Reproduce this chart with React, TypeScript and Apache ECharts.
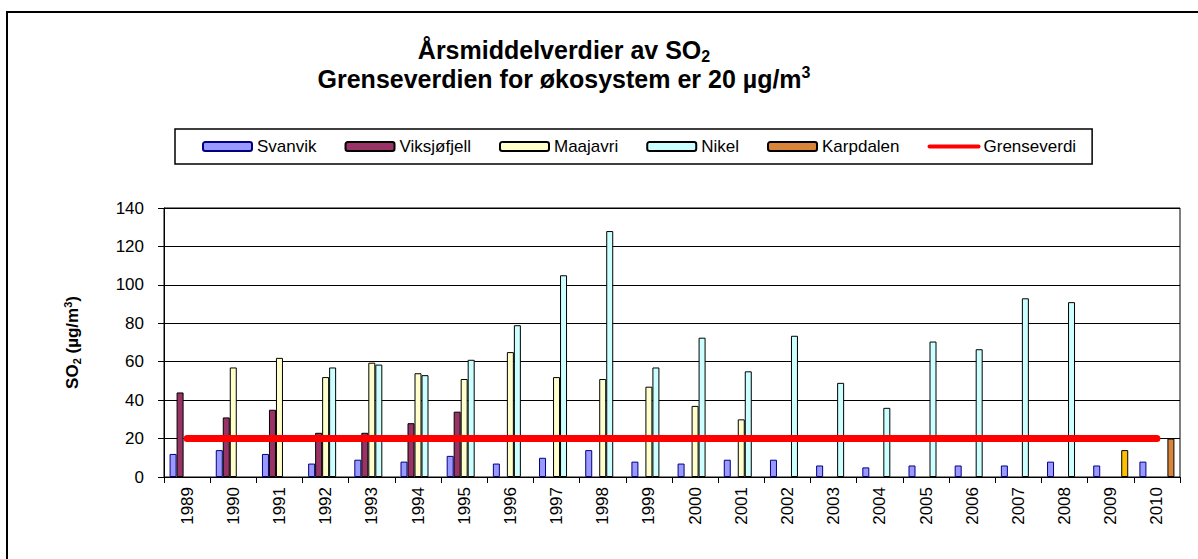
import React, { useEffect, useRef } from "react";
import * as echarts from "echarts";

const years = ["1989","1990","1991","1992","1993","1994","1995","1996","1997","1998","1999","2000","2001","2002","2003","2004","2005","2006","2007","2008","2009","2010"];
const svanvik = [12, 14, 12, 7, 9, 8, 11, 7, 10, 14, 8, 7, 9, 9, 6, 5, 6, 6, 6, 8, 6, 8];
const viksjofjell = [44, 31, 35, 23, 23, 28, 34, null, null, null, null, null, null, null, null, null, null, null, null, null, null, null];
const maajavri = [null, 57, 62, 52, 59.5, 54, 51, 65, 52, 51, 47, 37, 30, null, null, null, null, null, null, null, null, null];
const nikel = [null, null, null, 57, 58.5, 53, 61, 79, 105, 128, 57, 72.5, 55, 73.5, 49, 36, 70.5, 66.5, 93, 91, null, null];
const karpdalen = [null, null, null, null, null, null, null, null, null, null, null, null, null, null, null, null, null, null, null, null, 14, 20];
const grenseverdi = years.map(() => 20);
const yTicks = [0, 20, 40, 60, 80, 100, 120, 140];

const FONT = "'Liberation Sans', Arial, sans-serif";

export default function App() {
  const ref = useRef<HTMLDivElement>(null);
  useEffect(() => {
    if (!ref.current) return;
    const chart = echarts.init(ref.current, null, { renderer: "svg" });
    const barBase = (name: string, data: any[], color: string, border: string) => ({
      name,
      type: "bar",
      data,
      barWidth: 7,
      barGap: "0%",
      itemStyle: { color, borderColor: border, borderWidth: 1 },
    });
    const karpData = karpdalen.map((v, i) =>
      i === 20 && v != null ? { value: v, itemStyle: { color: "#FFC000" } } : v
    );
    chart.setOption({
      animation: false,
      backgroundColor: "#fff",
      textStyle: { fontFamily: FONT },
      title: {
        text: "{t|Årsmiddelverdier av SO}{sub|2}\n{t|Grenseverdien for økosystem er 20 µg/m}{sup|3}",
        left: 559,
        textAlign: "center",
        top: 30,
        textStyle: {
          rich: {
            t: { fontFamily: FONT, fontSize: 25, fontWeight: "bold", color: "#000", lineHeight: 29, verticalAlign: "middle" },
            sub: { fontFamily: FONT, fontSize: 16, fontWeight: "bold", color: "#000", lineHeight: 15, verticalAlign: "bottom" },
            sup: { fontFamily: FONT, fontSize: 16, fontWeight: "bold", color: "#000", lineHeight: 15, verticalAlign: "top" },
          },
        },
      },
      graphic: [
        {
          type: "rect",
          shape: { x: 7, y: 12, width: 1220, height: 600 },
          style: { fill: "none", stroke: "#000", lineWidth: 2 },
          silent: true,
        },
      ],
      legend: {
        left: 175,
        top: 129,
        padding: [9, 16, 9, 27],
        borderColor: "#000",
        borderWidth: 1.5,
        itemWidth: 49,
        itemHeight: 9,
        itemGap: 28,
        textStyle: { fontFamily: FONT, fontSize: 17, color: "#000" },
        data: [
          { name: "Svanvik" },
          { name: "Viksjøfjell" },
          { name: "Maajavri" },
          { name: "Nikel" },
          { name: "Karpdalen" },
          { name: "Grenseverdi", lineStyle: { width: 4, color: "#FF0000" }, itemStyle: { opacity: 0 } },
        ],
      },
      grid: {
        left: 164,
        right: 18,
        top: 208,
        bottom: 82,
        show: true,
        borderColor: "#000",
        borderWidth: 1,
        backgroundColor: "transparent",
      },
      xAxis: {
        type: "category",
        data: years,
        boundaryGap: true,
        axisLine: { lineStyle: { color: "#000", width: 1 } },
        axisTick: { show: true, length: 6, interval: 0, lineStyle: { color: "#000" } },
        axisLabel: { interval: 0, rotate: 90, margin: 10, fontSize: 17, color: "#000", fontFamily: FONT },
      },
      yAxis: {
        type: "value",
        min: yTicks[0],
        max: yTicks[yTicks.length - 1],
        interval: 20,
        name: "{b|SO}{s|2}{b| (µg/m}{p|3}{b|)}",
        nameLocation: "middle",
        nameGap: 82,
        nameRotate: 90,
        nameTextStyle: {
          rich: {
            b: { fontFamily: FONT, fontSize: 17, fontWeight: "bold", color: "#000", lineHeight: 20, verticalAlign: "middle" },
            s: { fontFamily: FONT, fontSize: 11, fontWeight: "bold", color: "#000", lineHeight: 11, verticalAlign: "bottom" },
            p: { fontFamily: FONT, fontSize: 11, fontWeight: "bold", color: "#000", lineHeight: 11, verticalAlign: "top" },
          },
        },
        axisLine: { show: true, lineStyle: { color: "#000", width: 1 } },
        axisTick: { show: true, length: 6, lineStyle: { color: "#000" } },
        axisLabel: { margin: 20, fontSize: 17, color: "#000", fontFamily: FONT },
        splitLine: { show: true, lineStyle: { color: "#000", width: 1 } },
      },
      series: [
        barBase("Svanvik", svanvik, "#9999FF", "#000080"),
        barBase("Viksjøfjell", viksjofjell, "#993366", "#000"),
        barBase("Maajavri", maajavri, "#FFFFCC", "#000"),
        barBase("Nikel", nikel, "#CCFFFF", "#000"),
        barBase("Karpdalen", karpData, "#D8853B", "#000"),
        {
          name: "Grenseverdi",
          type: "line",
          data: grenseverdi,
          symbol: "none",
          z: 5,
          lineStyle: { color: "#FF0000", width: 7, cap: "round" },
          itemStyle: { color: "#FF0000" },
        },
      ],
    });
    return () => chart.dispose();
  }, []);
  return (
    <div
      ref={ref}
      style={{ position: "fixed", left: 0, top: 0, width: 1198, height: 559, background: "#fff" }}
    />
  );
}
